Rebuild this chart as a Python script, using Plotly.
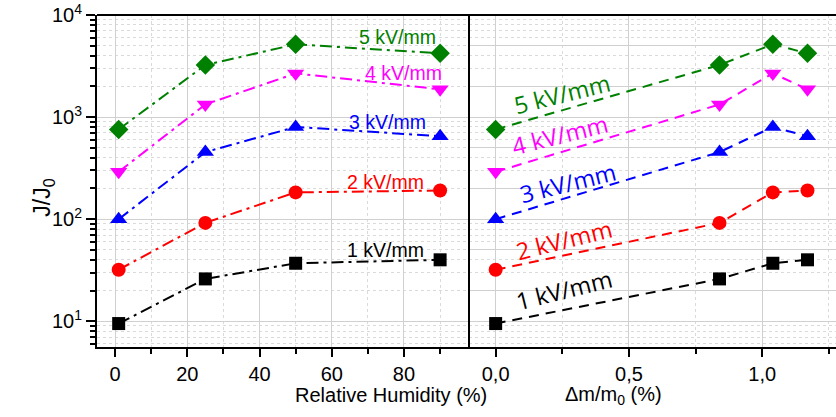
import plotly.graph_objects as go

# ---- data ----
rh = [1, 25, 50, 90]                 # Relative Humidity (%)
dm = [0.0, 0.84, 1.04, 1.17]         # delta m / m0 (%)
j_1kv = [9.5, 26, 37, 40]
j_2kv = [32, 92, 183, 191]
j_3kv = [100, 454, 800, 650]
j_4kv = [291, 1330, 2680, 1870]
j_5kv = [757, 3240, 5160, 4210]
field_labels = ["1 kV/mm", "2 kV/mm", "3 kV/mm", "4 kV/mm", "5 kV/mm"]
y_tickvals = [10, 100, 1000, 10000]
y_ticktext = ["10<sup>1</sup>", "10<sup>2</sup>", "10<sup>3</sup>", "10<sup>4</sup>"]
x1_tickvals = [0, 20, 40, 60, 80]
x2_tickvals = [0.0, 0.5, 1.0]
x2_ticktext = ["0,0", "0,5", "1,0"]

series = [j_1kv, j_2kv, j_3kv, j_4kv, j_5kv]
colors = ["#000000", "#ff0000", "#0000ff", "#ff00ff", "#008000"]
symbols = ["square", "circle", "triangle-up", "triangle-down", "diamond"]
msizes = [13, 14, 15, 15, 15]

# label positions (data coordinates, y in log10)
left_lab_x = [74.8, 74.9, 75.4, 79.9, 78.3]
left_lab_y = [1.70, 2.36, 2.95, 3.43, 3.785]
right_lab_x = [0.255, 0.255, 0.27, 0.24, 0.248]
right_lab_y = [1.31, 1.80, 2.35, 2.82, 3.23]

fig = go.Figure()
for vals, c, s, ms in zip(series, colors, symbols, msizes):
    fig.add_trace(go.Scatter(x=rh, y=vals, mode="lines+markers", xaxis="x", yaxis="y",
                             line=dict(color=c, width=2, dash="12px,5px,3px,5px"),
                             marker=dict(symbol=s, size=ms, color=c), showlegend=False))
    fig.add_trace(go.Scatter(x=dm, y=vals, mode="lines+markers", xaxis="x2", yaxis="y2",
                             line=dict(color=c, width=2, dash="10px,7px"),
                             marker=dict(symbol=s, size=ms, color=c), showlegend=False))

FONT = "Liberation Sans, Arial, sans-serif"
annotations = []
for i, t in enumerate(field_labels):
    annotations.append(dict(x=left_lab_x[i], y=left_lab_y[i], xref="x", yref="y", text=t,
                            showarrow=False, font=dict(family=FONT, size=19.5, color=colors[i])))
    annotations.append(dict(x=right_lab_x[i], y=right_lab_y[i], xref="x2", yref="y2", text=t,
                            showarrow=False, textangle=-14,
                            font=dict(family="Open Sans, sans-serif", size=23.5, color=colors[i])))

annotations += [
    dict(x=-0.094, y=0.45, xref="paper", yref="paper", text="J/J<sub>0</sub>", textangle=-90,
         showarrow=False, font=dict(family=FONT, size=23, color="black")),
    dict(x=0.265, y=-0.145, xref="paper", yref="paper", text="Relative Humidity (%)",
         showarrow=False, yanchor="middle", font=dict(family=FONT, size=20, color="black")),
    dict(x=0.767, y=-0.145, xref="paper", yref="paper", text="Δm/m<sub>0</sub> (%)",
         showarrow=False, yanchor="middle", font=dict(family=FONT, size=20, color="black")),
]

minor_y = [m * 10 ** k for k in range(0, 4) for m in range(2, 10)]
split = 372 / 739

grid_major = "#d0d0d0"
grid_minor = "#dadada"

common_x = dict(showline=True, linecolor="black", linewidth=2, mirror=False,
                ticks="outside", ticklen=8, tickwidth=2, tickcolor="black",
                showgrid=True, gridcolor=grid_major, gridwidth=1, zeroline=False,
                tickfont=dict(family=FONT, size=20, color="black"))

fig.update_layout(
    width=836, height=417,
    margin=dict(l=97, r=0, t=15, b=70),
    paper_bgcolor="white", plot_bgcolor="white",
    annotations=annotations,
    shapes=[
        dict(type="line", xref="paper", yref="paper", x0=0, x1=1, y0=1, y1=1,
             line=dict(color="black", width=2), layer="above"),
        dict(type="line", xref="paper", yref="paper", x0=split, x1=split, y0=0, y1=1,
             line=dict(color="black", width=2), layer="above"),
    ],
    xaxis=dict(domain=[0, split], range=[-5, 98], tickmode="array", tickvals=x1_tickvals,
               minor=dict(tickvals=[10, 30, 50, 70, 90], ticks="outside", ticklen=5, tickwidth=2,
                          tickcolor="black", showgrid=True, gridcolor=grid_minor,
                          griddash="3px,3px", gridwidth=1),
               anchor="y", **common_x),
    xaxis2=dict(domain=[split, 1], range=[-0.1, 1.277], tickmode="array", tickvals=x2_tickvals,
                ticktext=x2_ticktext,
                minor=dict(tickvals=[0.25, 0.75, 1.25], ticks="outside", ticklen=5, tickwidth=2,
                           tickcolor="black", showgrid=True, gridcolor=grid_minor,
                           griddash="3px,3px", gridwidth=1),
                anchor="y2", **common_x),
    yaxis=dict(type="log", range=[0.748, 4], anchor="x", tickmode="array",
               tickvals=y_tickvals, ticktext=y_ticktext,
               showline=True, linecolor="black", linewidth=2, mirror=False,
               ticks="outside", ticklen=9, tickwidth=2, tickcolor="black",
               showgrid=True, gridcolor=grid_major, gridwidth=1, zeroline=False,
               tickfont=dict(family=FONT, size=20, color="black"),
               minor=dict(tickvals=minor_y, ticks="outside", ticklen=5, tickwidth=1.5,
                          tickcolor="black", showgrid=True, gridcolor=grid_minor,
                          griddash="3px,3px", gridwidth=1)),
    yaxis2=dict(type="log", range=[0.748, 4], anchor="x2", matches="y",
                showticklabels=False, ticks="", showline=False,
                showgrid=True, gridcolor=grid_major, gridwidth=1, zeroline=False,
                minor=dict(tickvals=minor_y, ticks="", showgrid=True, gridcolor=grid_minor,
                           griddash="3px,3px", gridwidth=1)),
)

fig.write_html("out.html", config={"displayModeBar": False},
               post_script="document.body.style.margin='0px';")
